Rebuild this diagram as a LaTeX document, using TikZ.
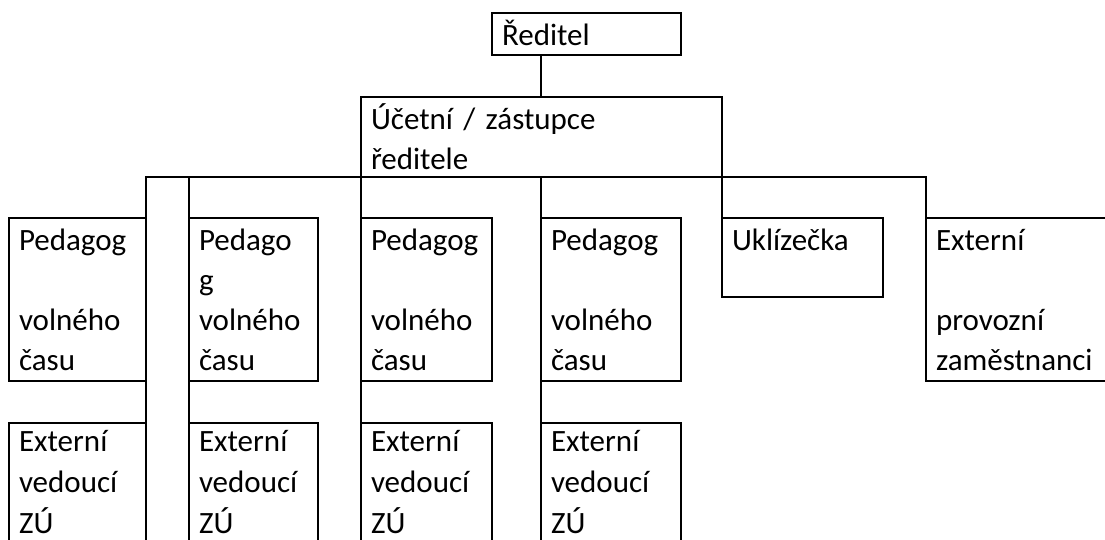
\documentclass[tikz,border=0pt]{standalone}
\usepackage{fontspec}
\setmainfont{Carlito}
\newcommand{\orgfont}{\fontsize{23.25pt}{30pt}\selectfont}
\newcommand{\lowfont}{\fontsize{23.25pt}{30.5pt}\selectfont}
\tikzset{
  orgbox/.style={draw, line width=1.3pt, outer sep=0pt, anchor=north west,
    inner xsep=7.5pt, inner ysep=0pt, align=left, text height=24pt, font=\orgfont},
  toprow/.style={orgbox, text depth=98.25pt},
  lowrow/.style={orgbox, text height=21.5pt, text depth=91pt, font=\lowfont},
  link/.style={line width=1.3pt}
}
\begin{document}
\begin{tikzpicture}[x=0.75pt,y=-0.75pt]
\useasboundingbox (0,0) rectangle (1105,539);
\clip (0,0) rectangle (1105,539);

% vedeni
\node[orgbox, text width=126.75pt, text depth=7.5pt] (dir) at (492,13) {Ředitel};
\node[orgbox, text width=255.75pt, text depth=36pt] (deputy) at (361,97) {Účetní / zástupce\\ředitele};

% pedagogove volneho casu
\node[toprow, text width=87.75pt] (ped1) at (9,218) {Pedagog\\[30pt]volného\\času};
\node[toprow, text width=81.75pt] (ped2) at (189,218) {Pedago\\g\\volného\\času};
\node[toprow, text width=83.25pt] (ped3) at (361,218) {Pedagog\\[30pt]volného\\času};
\node[toprow, text width=90pt] (ped4) at (541,218) {Pedagog\\[30pt]volného\\času};

% provoz
\node[orgbox, text width=105.75pt, text depth=35.25pt] (clean) at (722,218) {Uklízečka};
\node[toprow, text width=134.25pt] (extstaff) at (926,218) {Externí\\[30pt]provozní\\zaměstnanci};

% externi vedouci
\node[lowrow, text width=87.75pt] (vz1) at (9,423) {Externí\\vedoucí\\ZÚ};
\node[lowrow, text width=81.75pt] (vz2) at (189,423) {Externí\\vedoucí\\ZÚ};
\node[lowrow, text width=83.25pt] (vz3) at (361,423) {Externí\\vedoucí\\ZÚ};
\node[lowrow, text width=90pt] (vz4) at (541,423) {Externí\\vedoucí\\ZÚ};

% spojnice
\draw[link] (dir.south -| ped4.north west) -- (deputy.north -| ped4.north west);
\draw[link] (ped1.north east) |- (deputy.south) -| (extstaff.north west);
\draw[link] (ped2.north west) -- (ped2.north west |- deputy.south);
\draw[link] (ped3.north west) -- (deputy.south west);
\draw[link] (ped4.north west) -- (ped4.north west |- deputy.south);
\draw[link] (clean.north west) -- (deputy.south east);
\draw[link] (ped1.south east) -- (vz1.north east);
\foreach \i in {2,3,4}
    \draw[link] (ped\i.south west) -- (vz\i.north west);
\end{tikzpicture}
\end{document}
